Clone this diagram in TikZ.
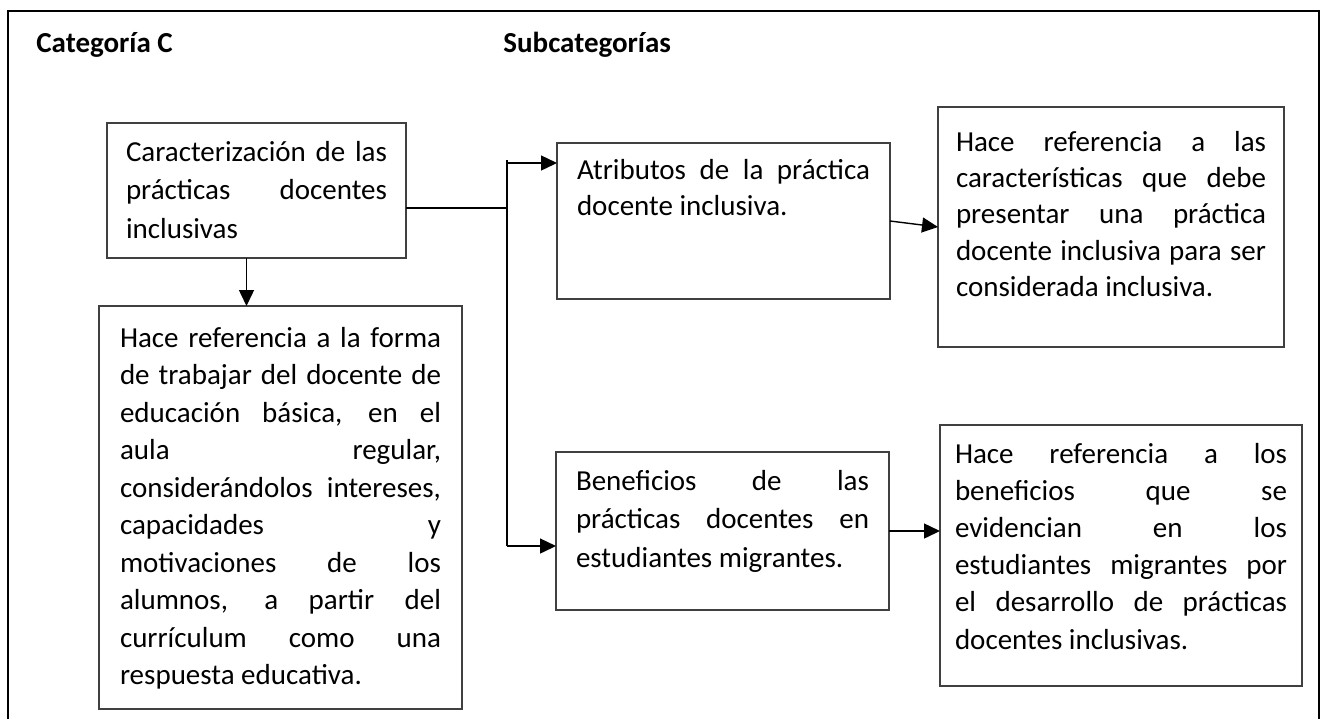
\documentclass[tikz,border=0pt]{standalone}
\usepackage{fontspec}
\setmainfont{Carlito}
\usetikzlibrary{arrows.meta}
\newcommand\bxt[5]{\parbox[t][#2][t]{#1}{\fontsize{14.5pt}{#4}\selectfont\tolerance=10000\hbadness=10000\hyphenpenalty=10000\exhyphenpenalty=10000\rule{0pt}{#3}#5}}
\begin{document}
\begin{tikzpicture}[x=0.5pt,y=-0.5pt,
  bx/.style={draw=black!75, line width=0.7pt, anchor=north west, inner ysep=0pt, outer sep=0pt},
  arr/.style={draw=black, line width=0.7pt, -{Triangle[length=8pt,width=7.5pt]}},
  ln/.style={draw=black, line width=0.7pt},
  ttl/.style={anchor=west, inner sep=0pt, font=\fontsize{14.5pt}{16pt}\selectfont\bfseries}]
\useasboundingbox (0,0) rectangle (1326,719);
\draw[line width=1pt] (8,719) -- (8,11) -- (1319,11) -- (1319,719);
\node[ttl] (t1) at (36,45) {Categoría C};
\node[ttl] (t2) at (503,45) {Subcategorías};
% boxes
\node[bx, inner xsep=9.5pt] (b1) at (107,123) {\bxt{130.5pt}{67.5pt}{19pt}{19.25pt}{Caracterización de las\linebreak prácticas docentes\linebreak inclusivas}};
\node[bx, inner xsep=10.5pt] (b2) at (99,306) {\bxt{160.5pt}{201.5pt}{20.5pt}{18.75pt}{Hace referencia a la forma\linebreak de trabajar del docente de\linebreak educación básica, en el\linebreak aula regular,\linebreak considerándolos intereses,\linebreak capacidades y\linebreak motivaciones de los\linebreak alumnos, a partir del\linebreak currículum como una\linebreak respuesta educativa.}};
\node[bx, inner xsep=10pt] (b3) at (557,143) {\bxt{146.5pt}{78pt}{18pt}{18.4pt}{Atributos de la práctica\linebreak docente inclusiva.}};
\node[bx, inner xsep=9pt] (b4) at (938,107) {\bxt{155pt}{120pt}{22pt}{18.2pt}{Hace referencia a las\linebreak características que debe\linebreak presentar una práctica\linebreak docente inclusiva para ser\linebreak considerada inclusiva.}};
\node[bx, inner xsep=10pt] (b5) at (556,452) {\bxt{146.5pt}{79pt}{19pt}{19.25pt}{Beneficios de las\linebreak prácticas docentes en\linebreak estudiantes migrantes.}};
\node[bx, inner xsep=7.5pt] (b6) at (940,425) {\bxt{166pt}{130.5pt}{19pt}{18.6pt}{Hace referencia a los\linebreak beneficios que se\linebreak evidencian en los\linebreak estudiantes migrantes por\linebreak el desarrollo de prácticas\linebreak docentes inclusivas.}};
% connectors
\coordinate (tr1) at (507,160);
\coordinate (tr2) at (507,546);
\coordinate (tb3) at (507,163);
\coordinate (tb5) at (507,546);
\draw[arr] ([xshift=-5pt]b1.south) -- ([xshift=-5pt]b1.south |- b2.north);
\draw[ln] ([yshift=-8.75pt]b1.east) -- ([yshift=-8.75pt]b1.east -| tr1);
\draw[ln] (tr1) -- (tr2);
\draw[arr] (tb3) -- (tb3 -| b3.west);
\draw[arr] (tb5) -- (tb5 -| b5.west);
\draw[arr] (b3.east) -- (b4.west);
\draw[arr] (b5.east) -- (b5.east -| b6.west);
\end{tikzpicture}
\end{document}
